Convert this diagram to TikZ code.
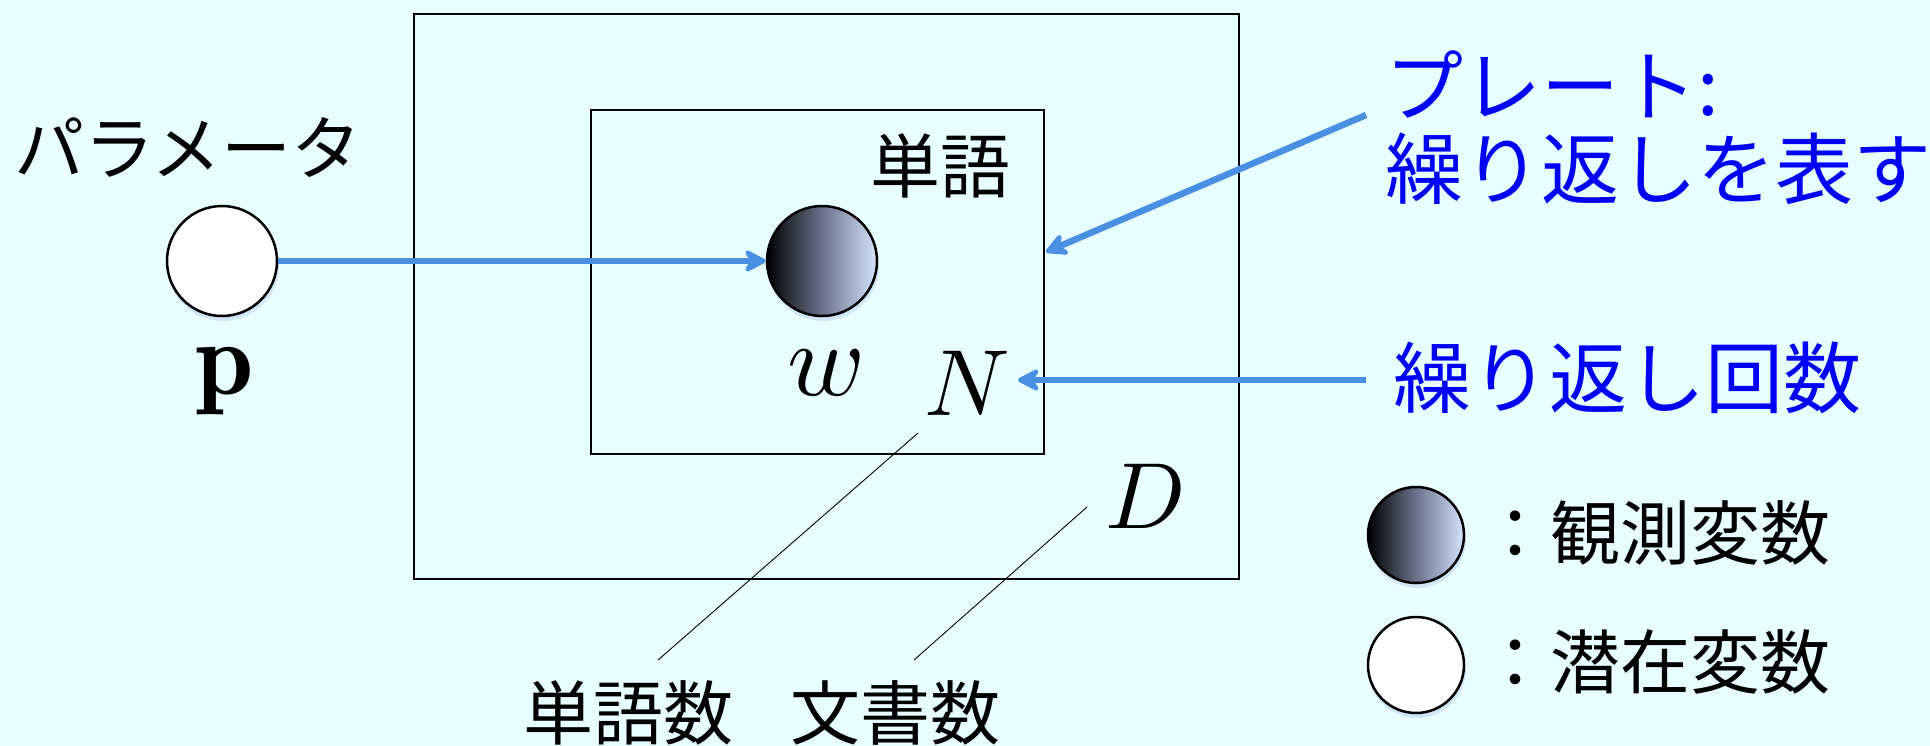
\documentclass[tikz,border=0pt]{standalone}
\usepackage{fontspec}
\newfontfamily\jp{Noto Sans CJK JP}
\usetikzlibrary{arrows.meta}
\definecolor{bg}{RGB}{232,255,255}
\definecolor{arrowblue}{RGB}{74,144,226}
\definecolor{textblue}{RGB}{0,0,245}
\definecolor{lightend}{RGB}{214,228,255}
\definecolor{midgray}{RGB}{105,114,138}
\definecolor{shadowblue}{RGB}{150,175,235}
\begin{document}
\begin{tikzpicture}[x=1pt,y=-1pt,
  latent/.style={circle, draw=black, line width=2.5pt, fill=white, minimum size=110pt, inner sep=0pt},
  observed/.style={circle, draw=black, line width=2.5pt, left color=black, right color=lightend, middle color=midgray, minimum size=110pt, inner sep=0pt},
  legendobs/.style={observed, minimum size=96pt},
  legendlat/.style={latent, minimum size=96pt},
  shadowdisk/.style={fill=shadowblue, opacity=0.3},
  bluearrow/.style={draw=arrowblue, line width=6.5pt, -{Stealth[length=27pt, width=28pt, inset=9pt, round]}},
  thinline/.style={draw=black, line width=0.9pt},
  jptext/.style={font=\jp\fontsize{70}{84}\selectfont, inner sep=0pt, text=black},
  bluetext/.style={font=\jp\fontsize{78}{83}\selectfont, inner sep=0pt, text=textblue},
  mathbig/.style={scale=10.5, inner sep=0pt},
  mathmid/.style={scale=9.4, inner sep=0pt}
]
% background and bounding box
\fill[bg] (0,0) rectangle (1930,746);
\useasboundingbox (0,0) rectangle (1930,746);

% plates
\node[draw=black, line width=2pt, minimum width=825pt, minimum height=565pt, inner sep=0pt] (outer) at (826.5,296.5) {};
\node[draw=black, line width=2pt, minimum width=453pt, minimum height=344pt, inner sep=0pt] (inner) at (817.5,282) {};

% shadows of circles
\fill[shadowdisk] (223,265) circle[radius=56];
\fill[shadowdisk] (823,265) circle[radius=56];
\fill[shadowdisk] (1417,539) circle[radius=49];
\fill[shadowdisk] (1417,669) circle[radius=49];

% variables
\node[latent] (p) at (222,261) {};
\node[observed] (w) at (822,261) {};

% labels
\node[jptext] (param) at (188,148) {パラメータ};
\node[mathbig] (plab) at (225,381) {$\mathbf{p}$};
\node[mathbig] (wlab) at (826,373) {$w$};
\node[mathmid] (nlab) at (967,383) {$N$};
\node[mathmid] (dlab) at (1146,496) {$D$};
\node[jptext] (word) at (940,166) {単語};

% main arrow
\draw[bluearrow] (p) -- (w);

% annotations
\node[bluetext, anchor=west, align=left] (platetxt) at (1385,127.5) {プレート:\\繰り返しを表す};
\node[bluetext, anchor=west] (reptxt) at (1393,378) {繰り返し回数};
\coordinate (a1s) at (1366,115);
\coordinate (a1e) at (1046,252);
\coordinate (a2s) at (1366,380);
\coordinate (a2e) at (1018,380);
\draw[bluearrow] (a1s) -- (a1e);
\draw[bluearrow] (a2s) -- (a2e);

% count labels
\node[jptext] (nwords) at (628,713) {単語数};
\node[jptext] (ndocs) at (895,713) {文書数};
\coordinate (n1) at (918,433);
\coordinate (n2) at (658,660);
\coordinate (d1) at (1087,507);
\coordinate (d2) at (914,660);
\draw[thinline] (n1) -- (n2);
\draw[thinline] (d1) -- (d2);

% legend
\node[legendobs] (lobs) at (1416,535) {};
\node[legendlat] (llat) at (1416,665) {};
\node[jptext, anchor=west] (lobstxt) at (1480,533) {：観測変数};
\node[jptext, anchor=west] (llattxt) at (1480,662) {：潜在変数};
\end{tikzpicture}
\end{document}
